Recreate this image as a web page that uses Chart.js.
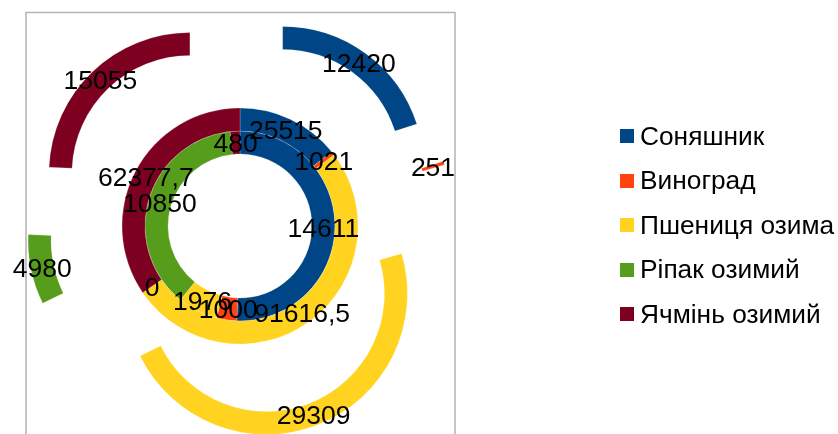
<!DOCTYPE html>
<html>
<head>
<meta charset="utf-8">
<script src="https://cdn.jsdelivr.net/npm/chart.js@4"></script>
<style>
  html, body { margin: 0; padding: 0; background: #fff; }
  #wrap { position: relative; width: 838px; height: 434px; overflow: hidden; }
  #legend { position: absolute; left: 620px; top: 114px; font-family: "Liberation Sans", Arial, sans-serif; font-size: 26.3px; color: #000; }
  #legend div { height: 44.5px; display: flex; align-items: center; white-space: nowrap; }
  #legend span.box { display: inline-block; width: 14px; height: 14px; margin-right: 6px; }
</style>
</head>
<body>
<div id="wrap">
  <canvas id="chart_kultury"></canvas>
  <div id="legend"></div>
</div>
<script>
// categories (same order in every ring, clockwise from the top)
const kultury = ['Соняшник', 'Виноград', 'Пшениця озима', 'Ріпак озимий', 'Ячмінь озимий'];
// rings, outer to inner
const kilcheZovn = [12420, 251, 29309, 4980, 15055];
const kilcheSer = [25515, 1021, 91616.5, 0, 62377.7];
const kilcheVnutr = [14611, 1000, 1976, 10850, 480];

const kolory = ['#004586', '#ff420e', '#ffd320', '#579d1c', '#7e0021'];

// outer ring is pulled out of the centre (pixels)
const VYNOS = 72.5;
const SHRYFT = 26.5;

const vynosPlugin = {
    id: 'vynos',
    beforeDatasetDraw(chart, args) {
        const ds = chart.data.datasets[args.index];
        if (!ds.vynos) return;
        const ctx = chart.ctx;
        args.meta.data.forEach(arc => {
            const mid = (arc.startAngle + arc.endAngle) / 2;
            ctx.save();
            ctx.translate(Math.cos(mid) * ds.vynos, Math.sin(mid) * ds.vynos);
            arc.draw(ctx);
            ctx.restore();
        });
        return false;
    }
};

const ramkaPlugin = {
    id: 'ramka',
    beforeDraw(chart) {
        const ctx = chart.ctx;
        ctx.save();
        ctx.strokeStyle = '#b3b3b3';
        ctx.lineWidth = 1.5;
        ctx.strokeRect(26, 12.5, 429, 440);
        ctx.restore();
    }
};

const pidpysyPlugin = {
    id: 'pidpysy',
    afterDatasetsDraw(chart) {
        const ctx = chart.ctx;
        ctx.save();
        ctx.font = SHRYFT + 'px "Liberation Sans", Arial, sans-serif';
        ctx.fillStyle = '#000';
        ctx.textAlign = 'center';
        ctx.textBaseline = 'alphabetic';
        chart.data.datasets.forEach((ds, i) => {
            const meta = chart.getDatasetMeta(i);
            meta.data.forEach((arc, j) => {
                const mid = (arc.startAngle + arc.endAngle) / 2;
                const r = (arc.innerRadius + arc.outerRadius) / 2 + (ds.vynos || 0);
                const txt = String(ds.data[j]).replace('.', ',');
                ctx.fillText(txt, arc.x + Math.cos(mid) * r, arc.y + Math.sin(mid) * r + SHRYFT * 0.36);
            });
        });
        ctx.restore();
    }
};

const ctx = document.getElementById('chart_kultury').getContext('2d');
const myChart = new Chart(ctx, {
    type: 'doughnut',
    data: {
        labels: kultury,
        datasets: [
            { data: kilcheZovn, backgroundColor: kolory, vynos: VYNOS },
            { data: kilcheSer, backgroundColor: kolory },
            { data: kilcheVnutr, backgroundColor: kolory }
        ]
    },
    options: {
        responsive: true,
        maintainAspectRatio: false,
        animation: false,
        radius: 141,
        cutout: '51.06%',
        borderWidth: 0.6,
        borderColor: 'rgba(255,255,255,0.35)',
        layout: { padding: { left: 26, right: 384, top: 18, bottom: 0 } },
        plugins: {
            legend: { display: false },
            tooltip: { enabled: false }
        }
    },
    plugins: [ramkaPlugin, vynosPlugin, pidpysyPlugin]
});

// legend
const legend = document.getElementById('legend');
kultury.forEach((k, i) => {
    const row = document.createElement('div');
    row.innerHTML = '<span class="box" style="background:' + kolory[i] + '"></span>' + k;
    legend.appendChild(row);
});
</script>
</body>
</html>
